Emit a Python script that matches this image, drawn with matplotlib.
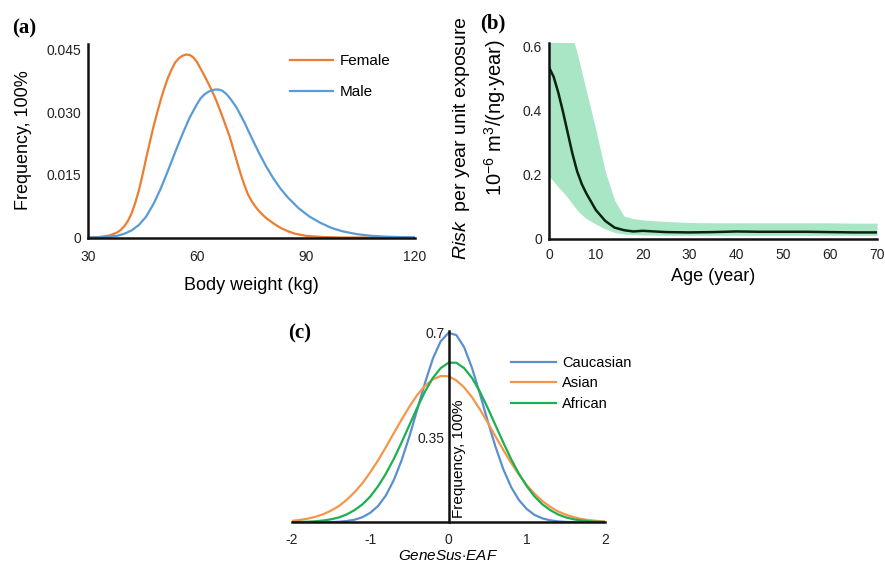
import numpy as np
import matplotlib
matplotlib.use("Agg")
import matplotlib.pyplot as plt
from matplotlib import transforms

# (a) body weight distributions
peso = [30, 33, 36, 38, 39, 40, 41, 42, 43, 44, 45, 46, 47, 48, 49, 50, 51, 52, 53, 54,
        55, 56, 57, 58, 59, 60, 61, 62, 63, 64, 65, 66, 67, 68, 69, 70, 71, 72, 73, 74,
        75, 76, 77, 78, 79, 81, 83, 85, 87, 90, 95, 100, 120]
mujer = [0, 0.0001, 0.0005, 0.0012, 0.0018, 0.0027, 0.0040, 0.0058, 0.0083, 0.0113,
         0.0150, 0.0190, 0.0228, 0.0265, 0.0298, 0.0330, 0.0358, 0.0383, 0.0403,
         0.0420, 0.0430, 0.0436, 0.0439, 0.0438, 0.0432, 0.0421, 0.0405, 0.0389,
         0.0372, 0.0354, 0.0335, 0.0313, 0.0290, 0.0266, 0.0242, 0.0212, 0.0182,
         0.0153, 0.0127, 0.0104, 0.0088, 0.0075, 0.0064, 0.0055, 0.0047, 0.0034,
         0.0023, 0.0015, 0.0009, 0.0004, 0.0001, 0, 0]
peso_h = [30, 35, 38, 40, 42, 44, 46, 48, 50, 52, 54, 56, 58, 60, 61, 62, 63, 64, 65, 66,
          67, 68, 69, 70, 71, 73, 75, 77, 79, 81, 83, 85, 88, 91, 94, 97, 100, 104, 108,
          112, 116, 120]
hombre = [0, 0.0001, 0.0004, 0.0009, 0.0017, 0.0030, 0.0050, 0.0080, 0.0117, 0.0160,
          0.0205, 0.0248, 0.0288, 0.0320, 0.0334, 0.0343, 0.0349, 0.0353, 0.0355,
          0.0355, 0.0352, 0.0345, 0.0335, 0.0323, 0.0310, 0.0277, 0.0240, 0.0204,
          0.0171, 0.0142, 0.0117, 0.0096, 0.0070, 0.0050, 0.0035, 0.0023, 0.0015,
          0.0008, 0.0004, 0.0002, 0.0001, 0]

# (b) risk per year unit exposure vs age
edad = [0, 1, 2, 3, 4, 5, 6, 7, 8, 10, 12, 14, 16, 18, 20, 25, 30, 35, 40, 45, 50,
        55, 60, 65, 70]
riesgo = [0.535, 0.505, 0.455, 0.395, 0.33, 0.265, 0.21, 0.17, 0.14, 0.089, 0.055,
          0.034, 0.026, 0.022, 0.024, 0.020, 0.019, 0.020, 0.022, 0.021, 0.021,
          0.021, 0.020, 0.019, 0.019]
banda_sup = [0.93, 0.87, 0.81, 0.75, 0.69, 0.63, 0.58, 0.52, 0.46, 0.34, 0.21, 0.12,
             0.07, 0.062, 0.058, 0.053, 0.050, 0.049, 0.049, 0.049, 0.049, 0.049,
             0.049, 0.048, 0.048]
banda_inf = [0.195, 0.178, 0.160, 0.145, 0.128, 0.108, 0.089, 0.074, 0.062, 0.045,
             0.030, 0.019, 0.014, 0.012, 0.011, 0.010, 0.010, 0.010, 0.010, 0.010,
             0.010, 0.010, 0.010, 0.010, 0.010]

# (c) GeneSus-EAF distributions
eaf = [-2.0, -1.9, -1.8, -1.7, -1.6, -1.5, -1.4, -1.3, -1.2, -1.1, -1.0, -0.9, -0.8,
       -0.7, -0.6, -0.5, -0.4, -0.3, -0.2, -0.1, 0.0, 0.1, 0.2, 0.3, 0.4, 0.5, 0.6,
       0.7, 0.8, 0.9, 1.0, 1.1, 1.2, 1.3, 1.4, 1.5, 1.6, 1.7, 1.8, 1.9, 2.0]
caucasico = [0, 0, 0, 0.0001, 0.0004, 0.0009, 0.0021, 0.0047, 0.0096, 0.0188, 0.035,
             0.060, 0.099, 0.155, 0.228, 0.316, 0.415, 0.514, 0.603, 0.667, 0.698,
             0.690, 0.645, 0.569, 0.475, 0.374, 0.279, 0.196, 0.130, 0.082, 0.049,
             0.027, 0.0145, 0.0073, 0.0034, 0.0015, 0.0006, 0.0002, 0, 0, 0]
asiatico = [0.0055, 0.0087, 0.0135, 0.0203, 0.030, 0.043, 0.060, 0.083, 0.111, 0.144,
            0.184, 0.228, 0.277, 0.328, 0.378, 0.426, 0.469, 0.503, 0.527, 0.539,
            0.538, 0.523, 0.497, 0.461, 0.417, 0.368, 0.317, 0.267, 0.219, 0.176,
            0.137, 0.105, 0.078, 0.057, 0.040, 0.028, 0.019, 0.012, 0.008, 0.005, 0.003]
africano = [0.0006, 0.0011, 0.0021, 0.0037, 0.0066, 0.011, 0.018, 0.029, 0.045, 0.066,
            0.095, 0.133, 0.179, 0.233, 0.294, 0.358, 0.422, 0.482, 0.532, 0.568,
            0.588, 0.588, 0.568, 0.532, 0.482, 0.422, 0.358, 0.294, 0.233, 0.179,
            0.133, 0.095, 0.066, 0.045, 0.029, 0.018, 0.011, 0.0066, 0.0037, 0.0021,
            0.0011]

W, H = 885, 564
plt.rcParams['font.family'] = ['Liberation Sans', 'DejaVu Sans']
plt.rcParams['axes.unicode_minus'] = False
plt.rcParams['mathtext.fontset'] = 'custom'
plt.rcParams['mathtext.rm'] = 'Liberation Sans'
plt.rcParams['mathtext.it'] = 'Liberation Sans:italic'
fig = plt.figure(figsize=(W / 100, H / 100), dpi=100)


def ejes(izq, der, abajo, arriba):
    return fig.add_axes([izq / W, 1 - abajo / H, (der - izq) / W, (abajo - arriba) / H])


def estilo(ax):
    for s in ['top', 'right']:
        ax.spines[s].set_visible(False)
    for s in ['left', 'bottom']:
        ax.spines[s].set_linewidth(1.8)
        ax.spines[s].set_color('#111111')
    ax.tick_params(length=0, labelsize=10, pad=5, colors='#222222')


# ---- panel (a)
ax1 = ejes(88, 415, 237.5, 43.7)
estilo(ax1)
ax1.plot(peso, mujer, color='#ED7D31', lw=1.6, label='Female')
ax1.plot(peso_h, hombre, color='#5B9BD5', lw=1.6, label='Male')
ax1.set_xlim(30, 120)
ax1.set_ylim(0, 0.0465)
ax1.set_xticks([30, 60, 90, 120])
ax1.set_yticks([0, 0.015, 0.030, 0.045])
ax1.set_yticklabels(['0', '0.015', '0.030', '0.045'])
ax1.tick_params(axis='x', pad=9)
ax1.set_xlabel('Body weight (kg)', fontsize=13, labelpad=9)
ax1.set_ylabel('Frequency, 100%', fontsize=13, labelpad=10)
ax1.legend(loc='upper left', bbox_to_anchor=(284 / W, 1 - 48 / H),
           bbox_transform=fig.transFigure, frameon=False, fontsize=11,
           handlelength=2.8, handletextpad=0.45, labelspacing=1.1, borderaxespad=0)
fig.text(12 / W, 1 - 28 / H, '(a)', fontsize=15, fontweight='bold',
         family='Liberation Serif', va='center')

# ---- panel (b)
ax2 = ejes(549, 877, 238.5, 43.3)
estilo(ax2)
ax2.fill_between(edad, banda_inf, banda_sup, color='#A8E6C6', lw=0)
ax2.plot(edad, riesgo, color='#0B230F', lw=1.8)
ax2.set_xlim(0, 70)
ax2.set_ylim(0, 0.61)
ax2.set_xticks(range(0, 71, 10))
ax2.set_yticks([0, 0.2, 0.4, 0.6])
ax2.set_yticklabels(['0', '0.2', '0.4', '0.6'])
ax2.tick_params(axis='x', pad=7)
ax2.set_xlabel('Age (year)', fontsize=13, labelpad=4)
fig.text(461 / W, 1 - 138 / H, r'$\mathit{Risk}$  per year unit exposure', fontsize=14,
         rotation=90, ha='center', va='center')
fig.text(495 / W, 1 - 118 / H, r'10$^{-6}$ m$^{3}$/(ng$\cdot$year)', fontsize=14.5,
         rotation=90, ha='center', va='center')
fig.text(480 / W, 1 - 23 / H, '(b)', fontsize=15, fontweight='bold',
         family='Liberation Serif', va='center')

# ---- panel (c)
ax3 = ejes(292, 605, 522.3, 330.7)
estilo(ax3)
ax3.spines['left'].set_position(('data', 0))
ax3.plot(eaf, caucasico, color='#5B8FD0', lw=1.6, label='Caucasian')
ax3.plot(eaf, asiatico, color='#F7964A', lw=1.6, label='Asian')
ax3.plot(eaf, africano, color='#1DB050', lw=1.6, label='African')
ax3.set_xlim(-2, 2)
ax3.set_ylim(0, 0.706)
ax3.set_xticks([-2, -1, 0, 1, 2])
ax3.set_yticks([0.35, 0.7])
ax3.set_yticklabels(['0.35', '0.7'])
ax3.tick_params(axis='y', pad=3)
ax3.tick_params(axis='x', pad=8)
# la etiqueta 0.35 aparece algo mas abajo en la figura original
lab = ax3.get_yticklabels()[0]
lab.set_transform(lab.get_transform() + transforms.ScaledTranslation(0, -10 / 100, fig.dpi_scale_trans))
ax3.set_xlabel('GeneSus$\\cdot$EAF', fontsize=11, style='italic', labelpad=1)
ax3.text(0.13, 0.02, 'Frequency, 100%', fontsize=11, rotation=90, ha='center',
         va='bottom', transform=transforms.blended_transform_factory(ax3.transData, ax3.transAxes))
ax3.legend(loc='upper left', bbox_to_anchor=(505 / W, 1 - 350 / H),
           bbox_transform=fig.transFigure, frameon=False, fontsize=10.5,
           handlelength=3.1, handletextpad=0.4, labelspacing=0.45, borderaxespad=0)
fig.text(288 / W, 1 - 333 / H, '(c)', fontsize=15, fontweight='bold',
         family='Liberation Serif', va='center')

fig.savefig('out.png', dpi=100)
